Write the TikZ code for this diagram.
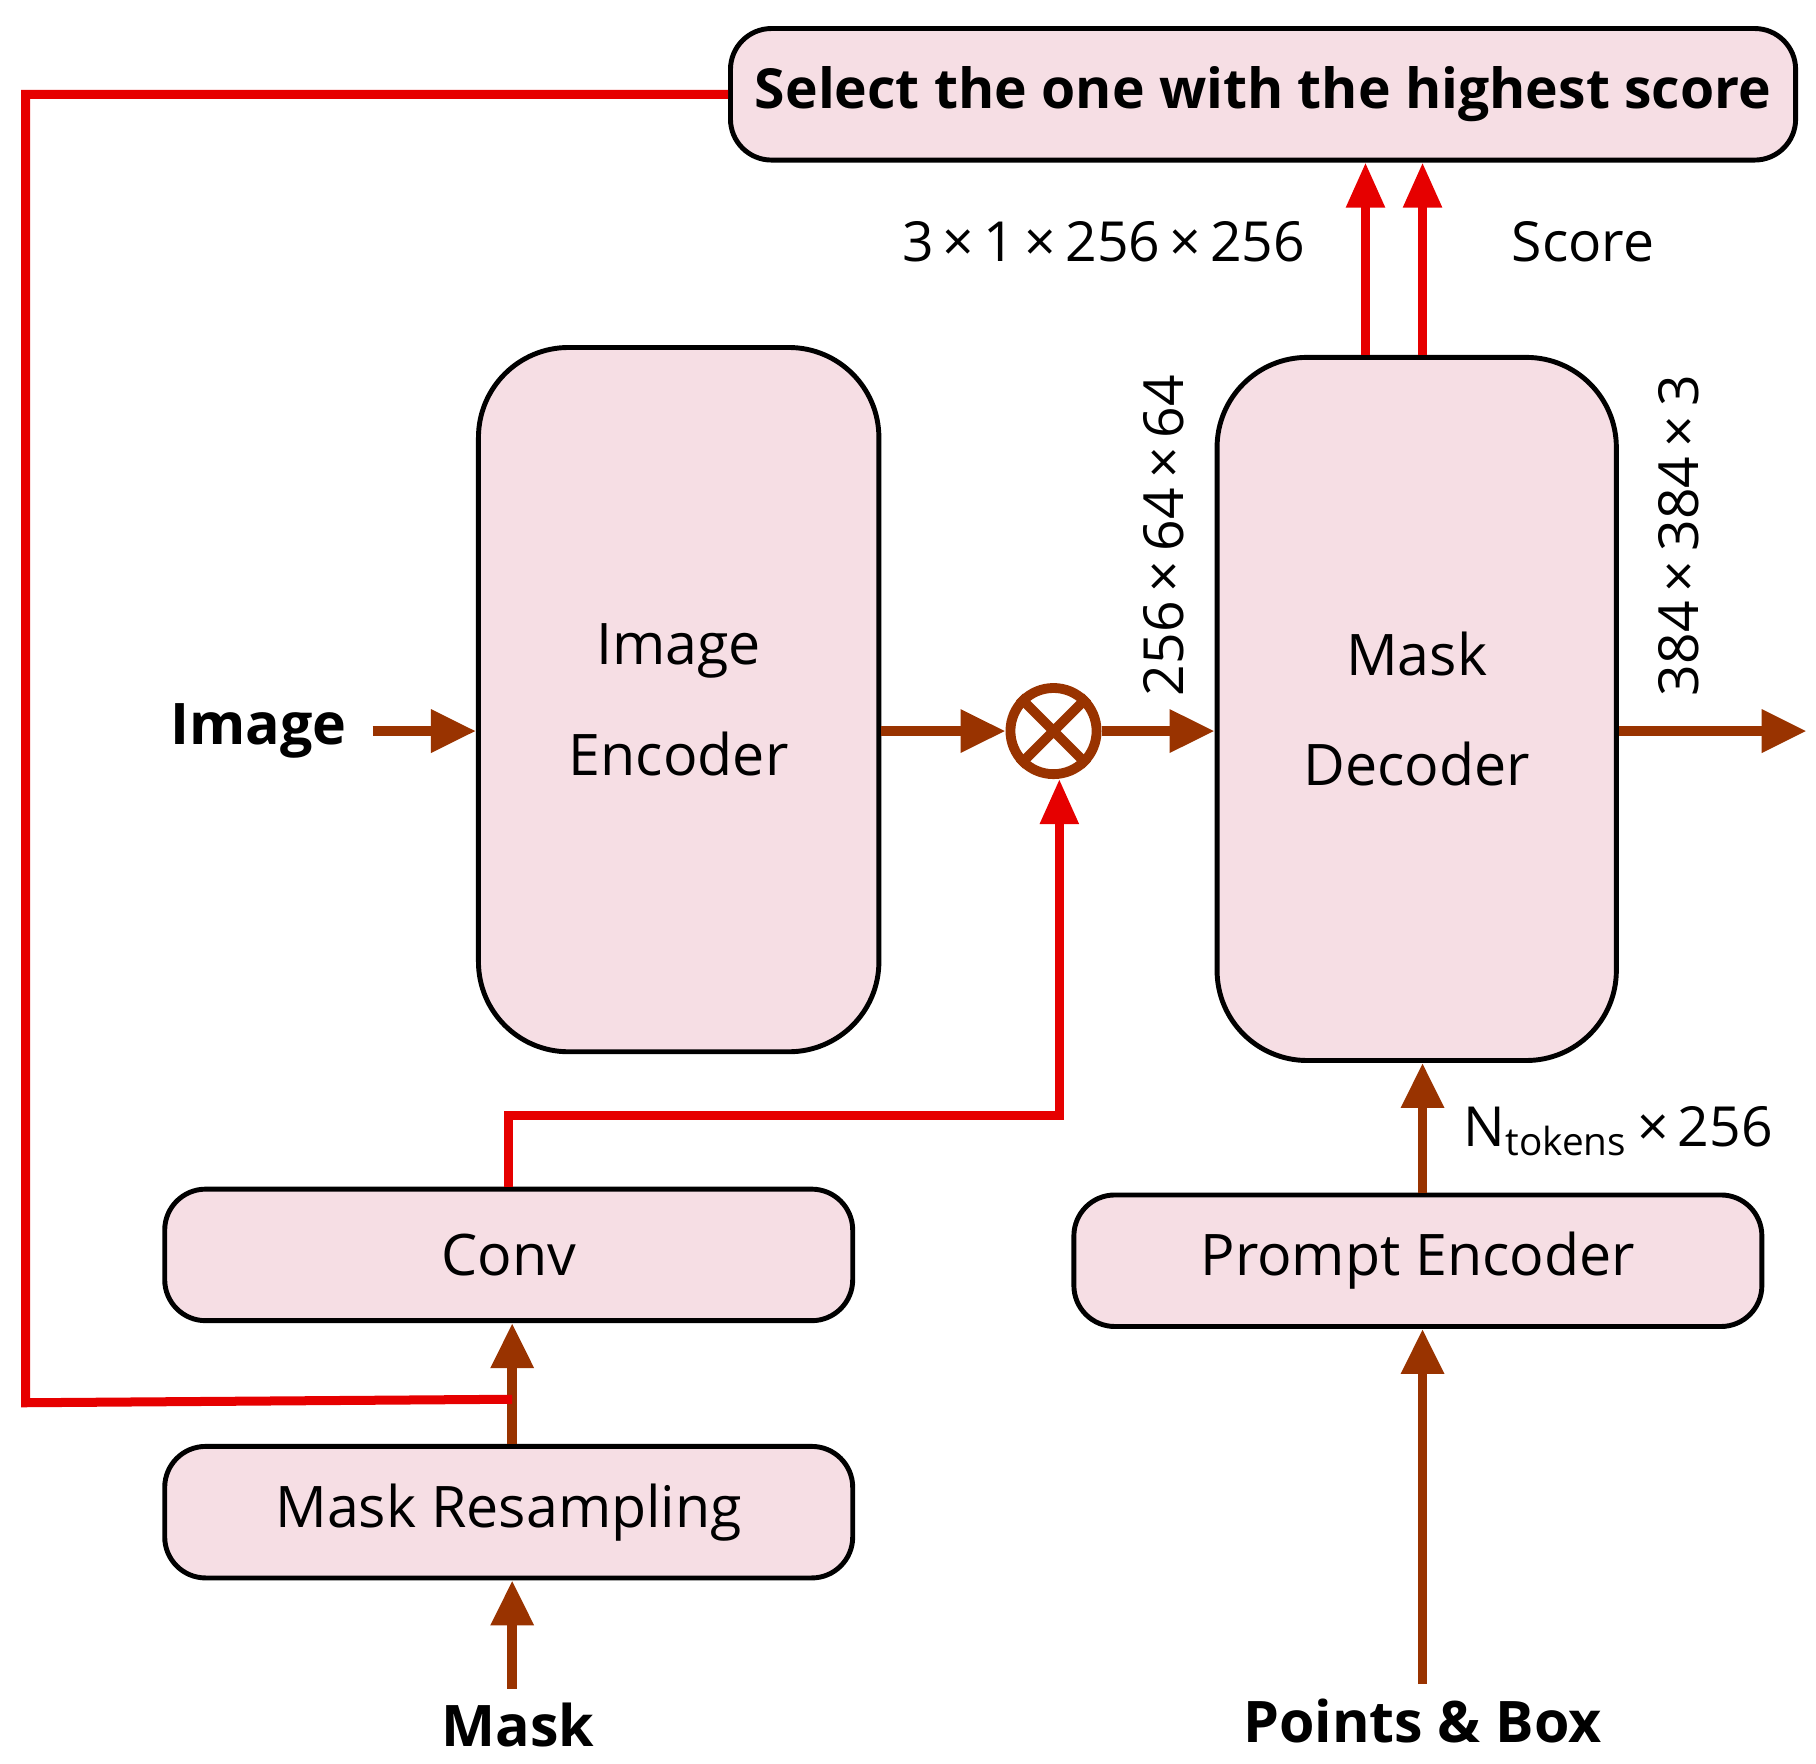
\documentclass[tikz,border=0pt]{standalone}
\usepackage{fontspec}
\setmainfont{Open Sans}
\usetikzlibrary{positioning,calc,arrows.meta}
\definecolor{boxfill}{RGB}{246,222,228}
\definecolor{brownarr}{RGB}{153,51,0}
\definecolor{redline}{RGB}{230,0,0}
\begin{document}
\begin{tikzpicture}[x=0.01cm,y=-0.01cm,
		SBlock/.style={draw,line width=1.2pt,fill=boxfill,rounded corners=10pt,font=\fontsize{14}{17}\selectfont,align=center,inner sep=0pt},
		SBig/.style={SBlock,rounded corners=22pt},
		title/.style={font=\fontsize{14}{17}\selectfont\bfseries},
		dims/.style={font=\fontsize{13.5}{16}\selectfont},
		brown/.style={draw=brownarr,line width=2.4pt,-{Triangle[length=11pt,width=10pt]}},
		red/.style={draw=redline,line width=2.2pt},
		redarr/.style={red,-{Triangle[length=11pt,width=9pt]}}
	]
	\useasboundingbox (0,0) rectangle (1560,1515);

	\node(select) [SBlock, font=\fontsize{13.5}{16}\selectfont\bfseries, minimum width=915*0.01cm, minimum height=113*0.01cm] at (1085,81) {Select the one with the highest score};
	\node(enc) [SBig, minimum width=344*0.01cm, minimum height=605*0.01cm] at (583,601) {Image\\[10pt]Encoder};
	\node(dec) [SBig, minimum width=343*0.01cm, minimum height=604*0.01cm] at (1217,609) {Mask\\[10pt]Decoder};
	\node(conv) [SBlock, minimum width=591*0.01cm, minimum height=113*0.01cm] at (437,1078) {Conv};
	\node(resamp) [SBlock, minimum width=591*0.01cm, minimum height=113*0.01cm] at (437,1299) {Mask Resampling};
	\node(prompt) [SBlock, minimum width=591*0.01cm, minimum height=113*0.01cm] at (1218,1083) {Prompt Encoder};
	\node(mult) [circle, draw=brownarr, line width=2.4pt, minimum size=74*0.01cm, inner sep=0pt] at (905,628) {};
	\draw [brownarr, line width=2.4pt] (mult.north west) -- (mult.south east) (mult.north east) -- (mult.south west);

	\node(image) [title] at (222,628) {Image};
	\node(mask) [title] at (445,1482) {Mask};
	\node(pts) [title] at (1222,1478) {Points \& Box};
	\coordinate (out) at (1552,628);

	\draw [brown] (image.east) ++(10,0) coordinate (ie) -- (enc.west |- ie);
	\draw [brown] (enc.east |- mult) -- (mult.west);
	\draw [brown] (mult.east) -- (dec.west |- mult);
	\draw [brown] (dec.east |- out) -- (out);
	\draw [brown] (resamp.north -| 440,0) -- (conv.south -| 440,0);
	\draw [brown] (mask.north -| 440,0) -- (resamp.south -| 440,0);
	\draw [brown] (pts.north -| 1222,0) -- (prompt.south -| 1222,0);
	\draw [brown] (prompt.north -| 1222,0) -- (dec.south -| 1222,0);

	\draw [redarr] (conv.north) |- (910,958) -- (mult.south -| 910,0);
	\draw [redarr] (dec.north -| 1173,0) -- (select.south -| 1173,0);
	\draw [redarr] (dec.north -| 1222,0) -- (select.south -| 1222,0);
	\draw [red] (select.west) -| (22,1205) -- (440,1202);

	\node [dims] at (948,208) {3\,×\,1\,×\,256\,×\,256};
	\node [dims] at (1360,208) {Score};
	\node [dims, rotate=90] at (1000,460) {256\,×\,64\,×\,64};
	\node [dims, rotate=90] at (1442,460) {384\,×\,384\,×\,3};
	\node [dims, anchor=west] at (1245,972) {N\textsubscript{tokens}\,×\,256};
\end{tikzpicture}
\end{document}
